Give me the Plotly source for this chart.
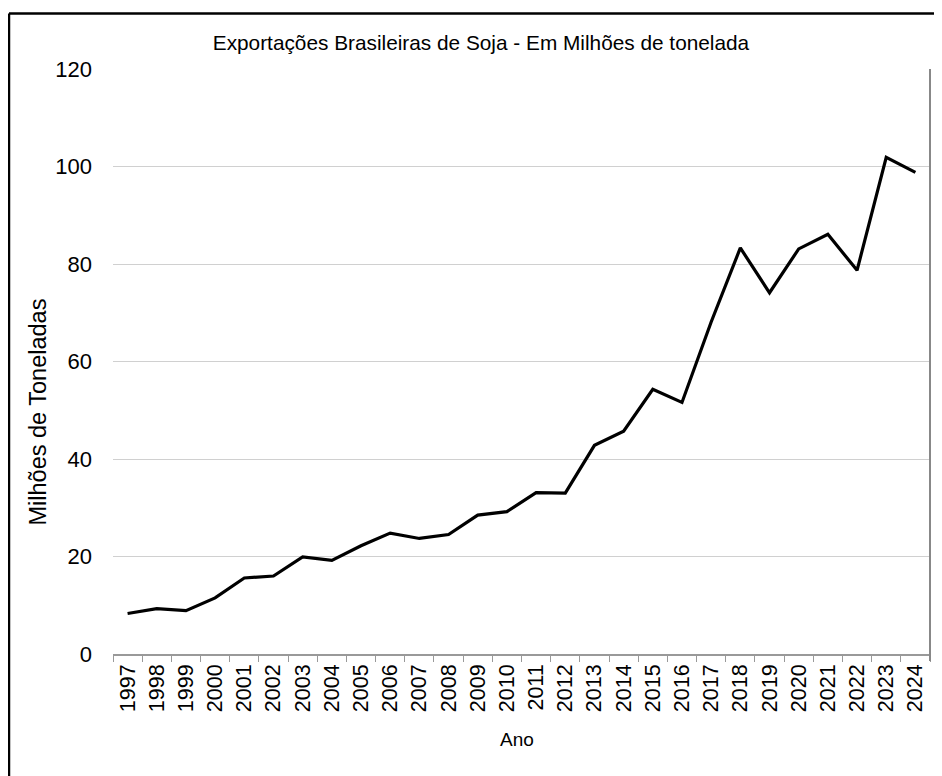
import plotly.graph_objects as go

anos = [str(a) for a in range(1997, 2025)]
exportacoes = [8.3, 9.3, 8.9, 11.5, 15.6, 16.0, 19.9, 19.2, 22.2, 24.8, 23.7, 24.5,
               28.5, 29.2, 33.1, 33.0, 42.8, 45.7, 54.3, 51.6, 68.1, 83.3, 74.1,
               83.1, 86.1, 78.7, 101.9, 98.8]
y_ticks = [0, 20, 40, 60, 80, 100, 120]

font = "Liberation Sans, Arial, sans-serif"

fig = go.Figure()
fig.add_trace(go.Scatter(
    x=anos, y=exportacoes, mode="lines",
    line=dict(color="black", width=3.2),
    showlegend=False,
))

fig.update_layout(
    width=934, height=768,
    margin=dict(l=105, r=12, t=61, b=122),
    paper_bgcolor="white", plot_bgcolor="white",
    font=dict(family=font, color="black"),
    title=dict(text="Exportações Brasileiras de Soja - Em Milhões de tonelada",
               x=0.5064, xanchor="center", y=0.9544, yanchor="middle",
               font=dict(size=20.8, family=font, color="black")),
    xaxis=dict(
        type="category", tickangle=-90, tickfont=dict(size=21.5, family=font),
        showgrid=False, showline=True, linecolor="#999999", linewidth=1.5,
        ticks="outside", tickson="boundaries", ticklen=6, tickcolor="#999999",
        range=[-0.5, len(anos) - 0.5],
    ),
    yaxis=dict(
        range=[0, 120], tickvals=y_ticks, tickfont=dict(size=22, family=font),
        showgrid=True, gridcolor="#d0d0d0", gridwidth=1.2,
        zeroline=False, showline=False, ticks="", ticklabelstandoff=20,
    ),
    annotations=[
        dict(text="Milhões de Toneladas", xref="paper", yref="paper",
             x=-0.0924, y=0.4137, xanchor="center", yanchor="middle",
             textangle=-90, showarrow=False, font=dict(size=23.5, family=font)),
        dict(text="Ano", xref="paper", yref="paper",
             x=0.4945, y=-0.1453, xanchor="center", yanchor="middle",
             showarrow=False, font=dict(size=19, family=font)),
    ],
    shapes=[
        dict(type="line", xref="paper", yref="paper", x0=1, x1=1, y0=-0.012, y1=1,
             line=dict(color="#888888", width=2)),
        dict(type="line", xref="paper", yref="paper", x0=-0.1273, x1=-0.1273, y0=-0.3, y1=1.0949,
             line=dict(color="black", width=2.5)),
        dict(type="line", xref="paper", yref="paper", x0=-0.1273, x1=1.1, y0=1.0949, y1=1.0949,
             line=dict(color="black", width=2.5)),
    ],
)

fig.write_html("out.html")
